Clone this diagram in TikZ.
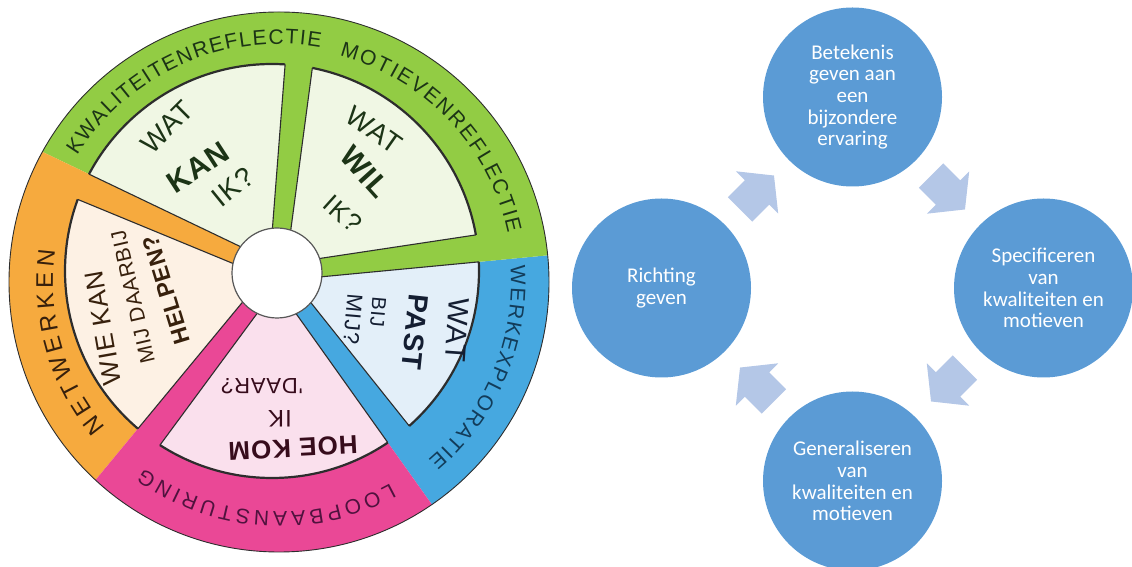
\documentclass[tikz,border=0pt]{standalone}
\usepackage{fontspec}
\setmainfont{Carlito}
\newfontfamily\handfont[LetterSpace=4]{Liberation Sans}
\usetikzlibrary{calc,decorations.text}

\definecolor{ringgreen}{RGB}{146,204,68}
\definecolor{ringorange}{RGB}{246,170,62}
\definecolor{ringpink}{RGB}{234,72,150}
\definecolor{ringblue}{RGB}{70,168,224}
\definecolor{palegreen}{RGB}{240,247,228}
\definecolor{paleblue}{RGB}{227,239,249}
\definecolor{palepink}{RGB}{250,224,237}
\definecolor{paleorange}{RGB}{253,241,228}
\definecolor{ink}{RGB}{45,45,45}
\definecolor{inkgreen}{RGB}{28,52,22}
\definecolor{inknavy}{RGB}{20,30,50}
\definecolor{inkmaroon}{RGB}{55,12,28}
\definecolor{inkbrown}{RGB}{55,32,12}
\definecolor{inkteal}{RGB}{18,60,90}
\definecolor{inkplum}{RGB}{80,18,62}
\definecolor{stepblue}{RGB}{91,155,213}
\definecolor{arrowblue}{RGB}{180,199,231}

\newcommand\ringfont{\handfont\fontsize{21}{21}\selectfont}
% pale sector between spoke #1 and spoke #2
\newcommand\sectorpath[2]{($(H)+({#1+90}:8)$) -- ($(H)+(#1:400)+({#1+90}:19)$) -- ($(H)+({(#1+#2)/2}:420)$) -- ($(H)+(#2:400)+({#2-90}:19)$) -- ($(H)+({#2-90}:8)$) -- cycle}
% coloured rim part, spoke included
\newcommand\rimpath[2]{($(H)+({#1-90}:8)$) -- ($(H)+(#1:400)+({#1-90}:19)$) -- ($(H)+({(#1+#2)/2}:440)$) -- ($(H)+(#2:400)+({#2-90}:19)$) -- ($(H)+({#2-90}:8)$) -- cycle}

\tikzset{
  handtext/.style={font=\handfont\fontsize{#1}{#1}\selectfont, inner sep=0pt},
  keytext/.style={font=\handfont\bfseries\fontsize{#1}{#1}\selectfont, inner sep=0pt},
  stepcircle/.style={circle, fill=stepblue, minimum size=179pt, inner sep=0pt,
    text=white, align=center, font=\fontsize{21}{21.7}\selectfont},
  cyclearrow/.pic={\fill[arrowblue] (-24,17.3) -- (0,17.3) -- (0,30) -- (24,0)
    -- (0,-30) -- (0,-17.3) -- (-24,-17.3) -- cycle;}
}

\begin{document}
\begin{tikzpicture}[x=1pt, y=1pt]
    \useasboundingbox (0,0) rectangle (1132,567);
    \coordinate (O) at (279,285);
    \coordinate (C) at (272,296);
    \coordinate (H) at (277,294);
    % rim
    \begin{scope}
        \clip (O) circle (270);
        \foreach \a/\b/\col in {-53/7/ringblue, 7/156/ringgreen, 156/232/ringorange, 232/307/ringpink}
            \fill[\col] \rimpath{\a}{\b};
    \end{scope}
    % sectors
    \begin{scope}
        \clip (C) circle (207);
        \foreach \a/\b/\col in {-53/7/paleblue, 7/84/palegreen, 84/156/palegreen, 156/232/paleorange, 232/307/palepink}
            \filldraw[fill=\col, draw=ink, line width=1.1pt] \sectorpath{\a}{\b};
    \end{scope}
    \foreach \a/\b in {-53/7, 7/84, 84/156, 156/232, 232/307} {
        \begin{scope}
            \clip \sectorpath{\a}{\b};
            \draw[ink, line width=2.2pt] (C) circle (207);
        \end{scope}
    }
    \draw[ink, line width=0.9pt] (O) circle (270);
    \node[circle, draw=ink!80, fill=white, line width=1.2pt, minimum size=90pt, inner sep=0pt] (hub) at (H) {};
    % rim labels
    \path[decorate, decoration={text along path, text align={fit to path}, text color=inkgreen,
        text={|\ringfont|KWALITEITENREFLECTIE}}] ($(O)+(148:238)$) arc[start angle=148, end angle=80, radius=238];
    \path[decorate, decoration={text along path, text align={fit to path}, text color=inkgreen,
        text={|\ringfont|MOTIEVENREFLECTIE}}] ($(O)+(75:234)$) arc[start angle=75, end angle=12, radius=234];
    \path[decorate, decoration={text along path, text align={fit to path}, text color=inkteal,
        text={|\ringfont|WERKEXPLORATIE}}] ($(O)+(4:232)$) arc[start angle=4, end angle=-50, radius=232];
    \path[decorate, decoration={text along path, text align={fit to path}, text color=inkplum,
        text={|\ringfont|LOOPBAANSTURING}}] ($(O)+(-61:230)$) arc[start angle=-61, end angle=-126, radius=230];
    \path[decorate, decoration={text along path, text align={fit to path}, text color=inkbrown,
        text={|\handfont\fontsize{24}{24}\selectfont|NETWERKEN}}] ($(O)+(220:226)$) arc[start angle=220, end angle=172, radius=226];
    % wat kan ik
    \node[handtext=28, text=inkgreen, rotate=45] (kan1) at (167,440) {WAT};
    \node[keytext=30, text=inkgreen, rotate=33] (kan2) at (198,400) {KAN};
    \node[handtext=28, text=inkgreen, rotate=39] (kan3) at (233,380) {IK?};
    % wat wil ik
    \node[handtext=28, text=inkgreen, rotate=-35] (wil1) at (374,437) {WAT};
    \node[keytext=30, text=inkgreen, rotate=-48] (wil2) at (365,395) {WIL};
    \node[handtext=26, text=inkgreen, rotate=-42] (wil3) at (343,353) {IK?};
    % wat past bij mij
    \node[handtext=29, text=inknavy, rotate=-94] (past1) at (457,237) {WAT};
    \node[keytext=28, text=inknavy, rotate=-96] (past2) at (415,235) {PAST};
    \node[handtext=20, text=inknavy, rotate=-95] (past3) at (378,255) {BIJ};
    \node[handtext=22, text=inknavy, rotate=-95] (past4) at (353,248) {MIJ?};
    % hoe kom ik daar
    \node[keytext=26, text=inkmaroon, rotate=183] (hoe1) at (293,119) {HOE KOM};
    \node[handtext=24, text=inkmaroon, rotate=180] (hoe2) at (280,148) {IK};
    \node[handtext=22, text=inkmaroon, rotate=180] (hoe3) at (262,181) {'DAAR?};
    % wie kan mij daarbij helpen
    \node[handtext=26, text=inkbrown, rotate=100] (wie1) at (103,239) {WIE KAN};
    \node[handtext=21, text=inkbrown, rotate=103] (wie2) at (133,270) {MIJ DAARBIJ};
    \node[keytext=23, text=inkbrown, rotate=107] (wie3) at (166,277) {HELPEN?};
    % cycle
    \node[stepcircle] (betekenis) at (852.5,470) {Betekenis\\geven aan\\een\\bijzondere\\ervaring};
    \node[stepcircle] (specificeren) at (1043.5,279) {Specificeren\\van\\kwaliteiten en\\motieven};
    \node[stepcircle] (generaliseren) at (852.5,86) {Generaliseren\\van\\kwaliteiten en\\motieven};
    \node[stepcircle] (richting) at (661.5,279) {Richting\\geven};
    \pic[rotate=-45] at ($(betekenis)!0.5!(specificeren)$) {cyclearrow};
    \pic[rotate=-135] at ($(specificeren)!0.5!(generaliseren)$) {cyclearrow};
    \pic[rotate=135] at ($(generaliseren)!0.5!(richting)$) {cyclearrow};
    \pic[rotate=45] at ($(richting)!0.5!(betekenis)$) {cyclearrow};
\end{tikzpicture}
\end{document}
